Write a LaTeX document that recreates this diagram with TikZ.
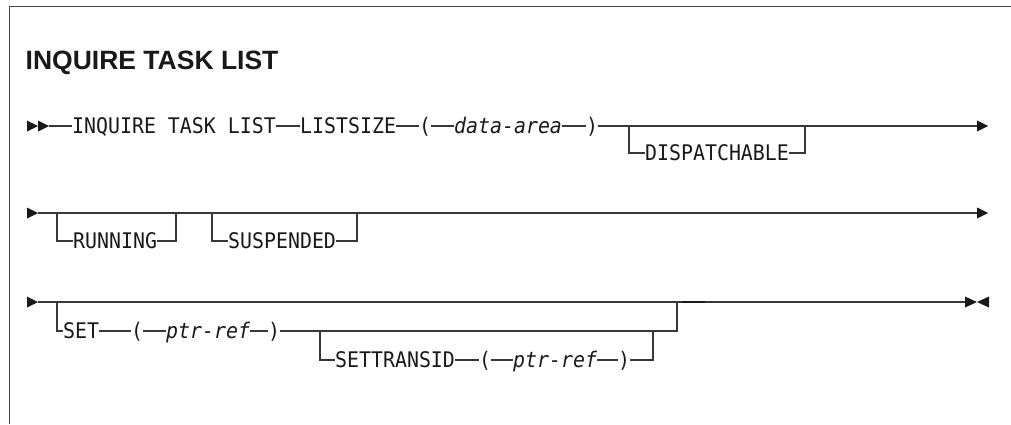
\documentclass[tikz,border=0pt]{standalone}
\usepackage{fontspec}
\newfontfamily\dmono[FakeStretch=0.925]{DejaVu Sans Mono}
\newfontfamily\titlef{Liberation Sans}
\tikzset{
  syn/.style={inner sep=0pt, anchor=west, text height=15.6pt, text depth=0pt,
              font=\dmono\fontsize{21.5}{22}\selectfont, text=black!90},
  var/.style={syn, font=\dmono\itshape\fontsize{21.5}{22}\selectfont},
  rail/.style={line width=1.1pt, draw=black!78},
  tip/.style={fill=black!90},
  frame/.style={line width=1.5pt, draw=black!72},
}
\newcommand\synR[1]{\fill[tip] (#1) ++(0,-5.5) -- ++(11,5.5) -- ++(-11,5.5) -- cycle;}
\newcommand\synL[1]{\fill[tip] (#1) ++(0,-5.5) -- ++(-11,5.5) -- ++(11,5.5) -- cycle;}
\begin{document}
\begin{tikzpicture}[x=1pt,y=-1pt]
\useasboundingbox (0,0) rectangle (1011,424);
% frame
\coordinate (fa) at (1011,6.5);
\coordinate (fb) at (9.5,6.5);
\coordinate (fc) at (9.5,424);
\draw[frame] (fa) -- (fb) -- (fc);
% title
\node[anchor=base west, inner sep=0pt, font=\titlef\bfseries\fontsize{26.5}{28}\selectfont, text=black!90]
  (title) at (25.5,69) {INQUIRE TASK LIST};

% ---------- row 1 ----------
\coordinate (r1a) at (27,126);
\coordinate (r1b) at (38,126);
\coordinate (r1c) at (49,126);
\synR{r1a}
\synR{r1b}
\node[syn] (inq) at (72,126) {INQUIRE TASK LIST};
\node[syn] (lsz) at (300,126) {LISTSIZE};
\node[syn] (lp1) at (419,126) {(};
\node[var] (da)  at (454,126) {data-area};
\node[syn] (rp1) at (586,126) {)};
\coordinate (d0) at (629,126);
\coordinate (d1) at (629,153);
\node[syn] (dsp) at (645,153) {DISPATCHABLE};
\coordinate (d2) at (805,153);
\coordinate (d3) at (805,126);
\coordinate (r1e) at (977,126);
\draw[rail] (r1c) -- (inq);
\draw[rail] (inq) -- (lsz);
\draw[rail] (lsz) -- (lp1);
\draw[rail] (lp1) -- (da);
\draw[rail] (da) -- (rp1);
\draw[rail] (rp1) -- (r1e);
\draw[rail] (d0) -- (d1) -- (dsp);
\draw[rail] (dsp) -- (d2) -- (d3);
\synR{r1e}

% ---------- row 2 ----------
\coordinate (r2a) at (27,213);
\coordinate (r2b) at (38,213);
\coordinate (r2e) at (977,213);
\synR{r2a}
\draw[rail] (r2b) -- (r2e);
\synR{r2e}
\coordinate (u0) at (57,213);
\coordinate (u1) at (57,241);
\node[syn] (run) at (73,241) {RUNNING};
\coordinate (u2) at (176,241);
\coordinate (u3) at (176,213);
\draw[rail] (u0) -- (u1) -- (run);
\draw[rail] (run) -- (u2) -- (u3);
\coordinate (v0) at (212,213);
\coordinate (v1) at (212,241);
\node[syn] (sus) at (228,241) {SUSPENDED};
\coordinate (v2) at (357,241);
\coordinate (v3) at (357,213);
\draw[rail] (v0) -- (v1) -- (sus);
\draw[rail] (sus) -- (v2) -- (v3);

% ---------- row 3 ----------
\coordinate (r3a) at (27,302);
\coordinate (r3b) at (38,302);
\coordinate (r3e) at (965,302);
\coordinate (r3f) at (989,302);
\synR{r3a}
\draw[rail] (r3b) -- (r3e);
\fill[tip] (r3e) ++(0,-5.5) -- ++(12,5.5) -- ++(-12,5.5) -- cycle;
\fill[tip] (r3f) ++(0,-5.5) -- ++(-12,5.5) -- ++(12,5.5) -- cycle;
% SET branch
\coordinate (s0) at (57,302);
\coordinate (s1) at (57,331);
\node[syn] (set) at (63,331) {SET};
\node[syn] (lp2) at (131,331) {(};
\node[var] (pr1) at (166,331) {ptr-ref};
\node[syn] (rp2) at (268,331) {)};
\coordinate (s2) at (677,331);
\coordinate (s3) at (677,302);
\draw[rail] (s0) -- (s1) -- (set);
\draw[rail] (set) -- (lp2);
\draw[rail] (lp2) -- (pr1);
\draw[rail] (pr1) -- (rp2);
\draw[rail] (rp2) -- (s2) -- (s3);
% SETTRANSID branch
\coordinate (t0) at (320,331);
\coordinate (t1) at (320,360);
\node[syn] (stid) at (335,360) {SETTRANSID};
\node[syn] (lp3) at (479,360) {(};
\node[var] (pr2) at (513,360) {ptr-ref};
\node[syn] (rp3) at (618,360) {)};
\coordinate (t2) at (653,360);
\coordinate (t3) at (653,331);
\draw[rail] (t0) -- (t1) -- (stid);
\draw[rail] (stid) -- (lp3);
\draw[rail] (lp3) -- (pr2);
\draw[rail] (pr2) -- (rp3);
\draw[rail] (rp3) -- (t2) -- (t3);
% short heavy bar
\coordinate (hb0) at (682,302);
\coordinate (hb1) at (705,302);
\draw[line width=2pt, draw=black!90] (hb0) -- (hb1);
\end{tikzpicture}
\end{document}
